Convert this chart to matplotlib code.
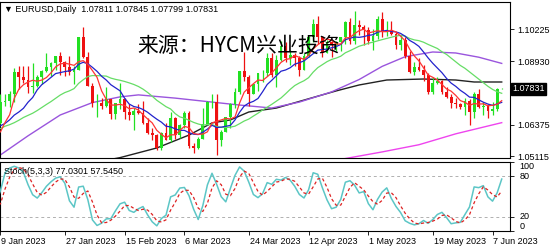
import numpy as np
import pandas as pd
import matplotlib
matplotlib.use('Agg')
import matplotlib.pyplot as plt

# ---------------- data ----------------
# history before the visible window (Dec 8 2022 .. Jan 6 2023), used only for indicators
pre_open  = [1.0505, 1.0555, 1.0530, 1.0540, 1.0630, 1.0680, 1.0625, 1.0585, 1.0605, 1.0620, 1.0600,
             1.0595, 1.0615, 1.0640, 1.0640, 1.0615, 1.0660, 1.0705, 1.0670, 1.0545, 1.0605, 1.0520]
pre_high  = [1.0565, 1.0590, 1.0565, 1.0675, 1.0695, 1.0735, 1.0640, 1.0635, 1.0660, 1.0640, 1.0660,
             1.0640, 1.0645, 1.0665, 1.0675, 1.0665, 1.0715, 1.0710, 1.0685, 1.0630, 1.0615, 1.0650]
pre_low   = [1.0495, 1.0520, 1.0510, 1.0525, 1.0620, 1.0595, 1.0570, 1.0575, 1.0570, 1.0590, 1.0575,
             1.0585, 1.0610, 1.0610, 1.0600, 1.0610, 1.0650, 1.0650, 1.0520, 1.0535, 1.0515, 1.0485]
pre_close = [1.0555, 1.0530, 1.0540, 1.0630, 1.0680, 1.0625, 1.0585, 1.0605, 1.0620, 1.0600, 1.0595,
             1.0615, 1.0640, 1.0640, 1.0615, 1.0660, 1.0705, 1.0670, 1.0545, 1.0605, 1.0520, 1.0645]

first_day, last_day = '2023-01-09', '2023-06-09'

opens = [1.0645, 1.0730, 1.0735, 1.0760, 1.0850, 1.0830, 1.0820, 1.0790, 1.0795, 1.0830,
         1.0855, 1.0870, 1.0885, 1.0915, 1.0890, 1.0870, 1.0850, 1.0860, 1.0990, 1.0910,
         1.0795, 1.0725, 1.0725, 1.0715, 1.0740, 1.0680, 1.0725, 1.0740, 1.0690, 1.0675,
         1.0695, 1.0685, 1.0645, 1.0605, 1.0595, 1.0545, 1.0605, 1.0575, 1.0665, 1.0595,
         1.0635, 1.0685, 1.0550, 1.0545, 1.0580, 1.0640, 1.0730, 1.0730, 1.0575, 1.0610,
         1.0670, 1.0720, 1.0770, 1.0855, 1.0830, 1.0760, 1.0800, 1.0845, 1.0845, 1.0905,
         1.0840, 1.0900, 1.0955, 1.0905, 1.0920, 1.0905, 1.0860, 1.0915, 1.0990, 1.1045,
         1.0990, 1.0925, 1.0970, 1.0960, 1.0970, 1.0990, 1.1050, 1.0975, 1.1040, 1.1030,
         1.1020, 1.0975, 1.0995, 1.1065, 1.1010, 1.1020, 1.1005, 1.0960, 1.0980, 1.0915,
         1.0850, 1.0870, 1.0860, 1.0840, 1.0770, 1.0805, 1.0815, 1.0770, 1.0750, 1.0725,
         1.0720, 1.0710, 1.0735, 1.0690, 1.0760, 1.0710, 1.0715, 1.0695, 1.0700, 1.07811]
highs = [1.0760, 1.0760, 1.0775, 1.0865, 1.0875, 1.0875, 1.0875, 1.0885, 1.0840, 1.0860,
         1.0925, 1.0890, 1.0915, 1.0930, 1.0895, 1.0915, 1.0875, 1.0990, 1.1033, 1.0930,
         1.0805, 1.0760, 1.0745, 1.0790, 1.0740, 1.0725, 1.0805, 1.0745, 1.0720, 1.0705,
         1.0720, 1.0735, 1.0665, 1.0625, 1.0600, 1.0610, 1.0645, 1.0690, 1.0670, 1.0640,
         1.0695, 1.0695, 1.0565, 1.0590, 1.0705, 1.0735, 1.0760, 1.0760, 1.0615, 1.0670,
         1.0725, 1.0785, 1.0855, 1.0930, 1.0840, 1.0800, 1.0845, 1.0860, 1.0925, 1.0925,
         1.0920, 1.0975, 1.0970, 1.0940, 1.0925, 1.0915, 1.0925, 1.0995, 1.1065, 1.1075,
         1.0995, 1.0980, 1.0975, 1.0975, 1.0990, 1.1055, 1.1070, 1.1095, 1.1060, 1.1040,
         1.1030, 1.1025, 1.1075, 1.1092, 1.1055, 1.1055, 1.1010, 1.1000, 1.0990, 1.0935,
         1.0890, 1.0905, 1.0880, 1.0845, 1.0830, 1.0830, 1.0820, 1.0790, 1.0760, 1.0745,
         1.0725, 1.0745, 1.0740, 1.0770, 1.0780, 1.0730, 1.0720, 1.0730, 1.0785, 1.07845]
lows = [1.0640, 1.0715, 1.0710, 1.0730, 1.0780, 1.0805, 1.0765, 1.0765, 1.0790, 1.0800,
        1.0850, 1.0835, 1.0860, 1.0840, 1.0835, 1.0840, 1.0800, 1.0860, 1.0905, 1.0795,
        1.0710, 1.0670, 1.0700, 1.0710, 1.0660, 1.0660, 1.0700, 1.0660, 1.0655, 1.0615,
        1.0680, 1.0640, 1.0600, 1.0575, 1.0535, 1.0535, 1.0575, 1.0570, 1.0580, 1.0585,
        1.0625, 1.0545, 1.0525, 1.0540, 1.0580, 1.0635, 1.0705, 1.0515, 1.0550, 1.0610,
        1.0625, 1.0705, 1.0760, 1.0815, 1.0715, 1.0760, 1.0775, 1.0810, 1.0835, 1.0830,
        1.0790, 1.0895, 1.0890, 1.0880, 1.0875, 1.0835, 1.0860, 1.0910, 1.0970, 1.0965,
        1.0910, 1.0925, 1.0910, 1.0935, 1.0935, 1.0965, 1.0965, 1.0965, 1.1000, 1.0960,
        1.0965, 1.0940, 1.0985, 1.0990, 1.0995, 1.1000, 1.0945, 1.0940, 1.0905, 1.0845,
        1.0840, 1.0855, 1.0815, 1.0760, 1.0760, 1.0800, 1.0760, 1.0745, 1.0705, 1.0705,
        1.0700, 1.0675, 1.0635, 1.0665, 1.0705, 1.0675, 1.0665, 1.0675, 1.0695, 1.07799]
closes = [1.0730, 1.0735, 1.0760, 1.0850, 1.0830, 1.0820, 1.0790, 1.0795, 1.0830, 1.0855,
          1.0870, 1.0885, 1.0915, 1.0890, 1.0870, 1.0850, 1.0860, 1.0990, 1.0910, 1.0795,
          1.0725, 1.0725, 1.0715, 1.0740, 1.0680, 1.0725, 1.0740, 1.0690, 1.0675, 1.0695,
          1.0685, 1.0645, 1.0605, 1.0595, 1.0545, 1.0605, 1.0575, 1.0665, 1.0595, 1.0635,
          1.0685, 1.0550, 1.0545, 1.0580, 1.0640, 1.0730, 1.0730, 1.0575, 1.0610, 1.0670,
          1.0720, 1.0770, 1.0855, 1.0830, 1.0760, 1.0800, 1.0845, 1.0845, 1.0905, 1.0840,
          1.0900, 1.0955, 1.0905, 1.0920, 1.0905, 1.0860, 1.0915, 1.0990, 1.1045, 1.0990,
          1.0925, 1.0970, 1.0960, 1.0970, 1.0990, 1.1050, 1.0975, 1.1040, 1.1030, 1.1020,
          1.0975, 1.0995, 1.1065, 1.1010, 1.1020, 1.1005, 1.0960, 1.0980, 1.0915, 1.0850,
          1.0870, 1.0860, 1.0840, 1.0770, 1.0805, 1.0815, 1.0770, 1.0750, 1.0725, 1.0720,
          1.0710, 1.0735, 1.0690, 1.0760, 1.0710, 1.0715, 1.0695, 1.0700, 1.0780, 1.07831]

# long moving averages (bar date -> value)
ma_purple_dates = ['2023-01-09', '2023-01-17', '2023-01-26', '2023-02-06', '2023-02-14', '2023-02-20',
                   '2023-03-02', '2023-03-14', '2023-03-22', '2023-03-31', '2023-04-10', '2023-04-19',
                   '2023-04-27', '2023-05-04', '2023-05-11', '2023-05-19', '2023-05-26', '2023-06-02',
                   '2023-06-09']
ma_purple = [1.0516, 1.0593, 1.0677, 1.0727, 1.0750, 1.0758, 1.0745, 1.0729, 1.0717, 1.0705,
             1.0729, 1.0770, 1.0820, 1.0873, 1.0912, 1.0931, 1.0927, 1.0910, 1.0885]
ma_black_dates = ['2023-02-10', '2023-02-14', '2023-02-24', '2023-03-07', '2023-03-14', '2023-03-20',
                  '2023-03-24', '2023-04-03', '2023-04-11', '2023-04-20', '2023-04-27', '2023-05-05',
                  '2023-05-17', '2023-05-26', '2023-06-01', '2023-06-09']
ma_black = [1.0498, 1.0505, 1.0544, 1.0596, 1.0645, 1.0657, 1.0689, 1.0705, 1.0737, 1.0774,
            1.0798, 1.0818, 1.0822, 1.0818, 1.0810, 1.0810]
ma_magenta_dates = ['2023-04-21', '2023-05-04', '2023-05-16', '2023-05-26', '2023-06-09']
ma_magenta = [1.0498, 1.0528, 1.0557, 1.0601, 1.0646]

# indicator periods
ma_red_period, ma_blue_period, ma_green_period = 5, 10, 21
stoch_k, stoch_d, stoch_slow = 5, 3, 3

tick_dates = ['2023-01-09', '2023-01-27', '2023-02-15', '2023-03-06', '2023-03-24',
              '2023-04-12', '2023-05-01', '2023-05-19', '2023-06-07']
tick_labels = ['9 Jan 2023', '27 Jan 2023', '15 Feb 2023', '6 Mar 2023', '24 Mar 2023',
               '12 Apr 2023', '1 May 2023', '19 May 2023', '7 Jun 2023']
price_ticks = [1.10225, 1.08930, 1.07650, 1.06375, 1.05115]
price_tick_labels = ['1.10225', '1.08930', '', '1.06375', '1.05115']   # 1.07650 sits under the price box
last_price = 1.07831
last_price_label = '1.07831'
title = '\u25bc EURUSD,Daily  1.07811 1.07845 1.07799 1.07831'
stoch_title = 'Stoch(5,3,3) 77.0301 57.5450'
stoch_levels = [100, 80, 20, 0]
watermark = '来源：HYCM兴业投资'

# ---------------- build ----------------
dates = pd.bdate_range(first_day, last_day)
n = len(dates)
npre = len(pre_close)
x = np.arange(n)
xall = np.arange(-npre, n)
didx = {d: i for i, d in enumerate(dates.strftime('%Y-%m-%d'))}

O = np.array(opens); Hh = np.array(highs); L = np.array(lows); C = np.array(closes)
allC = pd.Series(pre_close + closes)
allH = pd.Series(pre_high + highs)
allL = pd.Series(pre_low + lows)

ma_red = allC.rolling(ma_red_period).mean()
ma_blue = allC.rolling(ma_blue_period).mean()
ma_green = allC.rolling(ma_green_period, min_periods=1).mean()

hh = allH.rolling(stoch_k).max()
ll = allL.rolling(stoch_k).min()
num = (allC - ll).rolling(stoch_slow).sum()
den = (hh - ll).rolling(stoch_slow).sum()
K = 100 * num / den
D = K.rolling(stoch_d).mean()

W, Hpx = 554, 250
fig = plt.figure(figsize=(W / 100, Hpx / 100), dpi=100)
fig.patch.set_facecolor('white')


def px_axes(l, t, r, b):
    return fig.add_axes([l / W, 1 - b / Hpx, (r - l) / W, (b - t) / Hpx])


FONT = 'Liberation Sans'
FS = 6.5
ax = px_axes(0, 2, 510, 158)
ax2 = px_axes(0, 162, 510, 231)

GREEN = '#22e022'
RED = '#ee1111'

# candles
up = C >= O
cols = np.where(up, GREEN, RED)
ax.vlines(x, L, Hh, colors=cols, lw=0.9, zorder=3)
body_b = np.minimum(O, C)
body_h = np.maximum(np.abs(C - O), 0.00012)
ax.bar(x, body_h, bottom=body_b, width=0.62, color=cols, linewidth=0, zorder=4)

# moving averages
ax.plot([didx[d] for d in ma_magenta_dates], ma_magenta, color='#ee44ee', lw=1.0, zorder=2)
ax.plot([didx[d] for d in ma_black_dates], ma_black, color='#222222', lw=1.0, zorder=2)
ax.plot([didx[d] for d in ma_purple_dates], ma_purple, color='#9a55dd', lw=1.0, zorder=2)
ax.plot(xall, ma_green, color='#66dd66', lw=0.9, zorder=5)
ax.plot(xall, ma_blue, color='#2222cc', lw=0.9, zorder=5)
ax.plot(xall, ma_red, color='#ff3333', lw=0.9, zorder=5)

ax.set_xlim(-0.1, 110.8)
ax.set_ylim(1.05035, 1.11326)
ax.yaxis.tick_right()
ax.set_yticks(price_ticks)
ax.set_yticklabels(price_tick_labels, fontsize=FS, family=FONT)
ax.tick_params(axis='y', length=3, width=0.6, pad=2, colors='black')
ax.set_xticks([])
for s in ax.spines.values():
    s.set_linewidth(0.8)
    s.set_color('black')

ax.text(1.004, last_price, last_price_label, transform=ax.get_yaxis_transform(),
        fontsize=FS, family=FONT, color='white', va='center', ha='left', zorder=10,
        bbox=dict(boxstyle='square,pad=0.15', fc='black', ec='black'))
ax.text(4 / 510, 1 - 8 / 156, title, transform=ax.transAxes, fontsize=FS, family=[FONT, 'DejaVu Sans'],
        va='center', ha='left', color='black')
ax.text(137 / 510, 1 - 44 / 156, watermark, transform=ax.transAxes, fontsize=15,
        family=['Noto Sans CJK SC', 'DejaVu Sans'], va='center', ha='left', color='black', zorder=20)

# stochastic
ax2.plot(xall, K, color='#5cc6c6', lw=1.1, zorder=3)
ax2.plot(xall, D, color='#dd2222', lw=0.9, ls=(0, (2.5, 2)), zorder=3)
for lvl in (80, 20):
    ax2.axhline(lvl, color='#b0b0b0', lw=0.7, ls=(0, (3, 3)), zorder=1)
ax2.set_xlim(-0.1, 110.8)
ax2.set_ylim(-0.5, 100.5)
ax2.yaxis.tick_right()
ax2.set_yticks(stoch_levels)
ax2.set_yticklabels([])
ax2.tick_params(axis='y', length=3, width=0.6)
vas = {100: 'top', 80: 'center', 20: 'center', 0: 'bottom'}
for lvl in stoch_levels:
    ax2.text(1.018, lvl, str(lvl), transform=ax2.get_yaxis_transform(), fontsize=FS, family=FONT,
             va=vas[lvl], ha='left')
ax2.text(4 / 510, 1 - 9 / 69, stoch_title, transform=ax2.transAxes, fontsize=FS,
         family=FONT, va='center', ha='left', zorder=10)
tpos = [didx[d] for d in tick_dates]
ax2.set_xticks(tpos)
ax2.set_xticklabels([])
ax2.tick_params(axis='x', length=3, width=0.6)
for p, lab in zip(tpos, tick_labels):
    ax2.text(p + 0.2, -0.08, lab, transform=ax2.get_xaxis_transform(), fontsize=FS, family=FONT,
             va='top', ha='left', clip_on=False)
for s in ax2.spines.values():
    s.set_linewidth(0.8)
    s.set_color('black')

fig.savefig('out.png', dpi=100, facecolor='white')
